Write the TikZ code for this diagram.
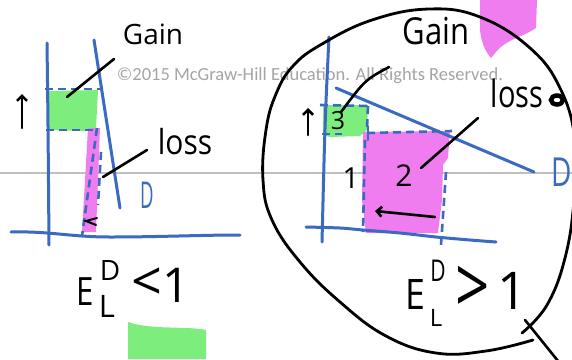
\documentclass[tikz,border=0pt]{standalone}
\usepackage{fontspec}
\setmainfont{Open Sans}
\newfontfamily\wmfont{Carlito}
\usetikzlibrary{arrows.meta}
\definecolor{pblue}{RGB}{58,107,192}
\definecolor{gfill}{RGB}{125,238,125}
\definecolor{pfill}{RGB}{240,125,240}
\definecolor{wmgray}{RGB}{165,165,165}
\definecolor{rulegray}{RGB}{192,192,192}
\newcommand\hw[1]{\fontsize{#1}{#1}\selectfont}
\begin{document}
\begin{tikzpicture}[x=1pt,y=-1pt,
  ax/.style={pblue, line width=3pt, line cap=round},
  dsh/.style={pblue, line width=2.6pt, dash pattern=on 8pt off 5pt},
  ink/.style={black, line width=2.6pt, line cap=round},
  lbl/.style={inner sep=0pt, black},
  barb/.style={-{Straight Barb[length=5pt,width=10pt]}}]
\fill[white] (0,0) rectangle (572,359);
\useasboundingbox (0,0) rectangle (572,359);
\clip (0,0) rectangle (572,359);
% gray rule
\coordinate (r1) at (0,173); \coordinate (r2) at (572,173);
\draw[rulegray, line width=1.6pt] (r1) -- (r2);
% fills
\fill[gfill] (48,91) -- (98,90) -- (96,128) -- (85,131) -- (48,130) -- cycle;
\fill[pfill] (88,128) -- (100,128) -- (96,232) -- (82,232) -- cycle;
\fill[gfill] (323,105) -- (368,105) -- (367,130) -- (360,136) -- (330,137) -- (323,135) -- cycle;
\fill[pfill] (363,132) -- (450,131) -- (448,158) -- (443,165) -- (442,200) -- (438,233) -- (366,233) -- (362,200) -- cycle;
\fill[pfill] (480,0) -- (537,0) -- (536,28) .. controls (525,36) and (505,40) .. (496,52) -- (491,58) .. controls (484,50) and (481,40) .. (480,30) -- cycle;
\fill[gfill] (128,322) .. controls (150,330) and (190,326) .. (206,330) -- (206,359) -- (128,359) -- cycle;
% watermark
\node[anchor=base, inner sep=0pt, text=wmgray, font=\wmfont\fontsize{18.5}{18.5}\selectfont] (wm) at (310,80) {©2015 McGraw-Hill Education. All Rights Reserved.};
% ---- left graph
\draw[ax] (47,43) .. controls (48,120) .. (49,245);
\draw[ax] (11,232) .. controls (50,231) and (70,237) .. (110,237) .. controls (160,237) and (200,235) .. (240,235);
\draw[ax] (94,40) -- (120,208);
\draw[dsh] (45,89) -- (101,89);
\draw[dsh] (46,130) -- (97,130);
\draw[dsh] (97,128) -- (82,236);
\draw[dsh] (101,152) -- (98,205);
\node[lbl, text=pblue, font=\hw{37}, xscale=0.5] (DL) at (147,195) {D};
\coordinate (la1) at (22,128); \coordinate (la2) at (22,94);
\draw[ink, barb] (la1) -- (la2);
\draw[ink, line width=2pt] (97,218) -- (86,221) -- (96,225);
\node[lbl, font=\hw{28}] (gainL) at (153,34) {Gain};
\node[lbl, font=\hw{30}, yscale=1.15] (lossL) at (185,142) {loss};
\coordinate (gL1) at (114,59); \coordinate (gL2) at (67,97);
\draw[ink] (gL1) -- (gL2);
\coordinate (lL1) at (147,150); \coordinate (lL2) at (103,177);
\draw[ink] (lL1) -- (lL2);
\node[lbl, font=\hw{39}, xscale=0.8] (EL) at (85,292) {E};
\node[lbl, font=\hw{28}] (DsL) at (110,270) {D};
\node[lbl, font=\hw{31}] (LsL) at (107,306) {L};
\node[lbl, font=\hw{54}] (ltL) at (147,284) {<};
\node[lbl, font=\hw{48}] (oneL) at (176,285) {1};
% ---- right graph
\draw[ax] (329,37) .. controls (325,120) .. (322,242);
\draw[ax] plot[smooth] coordinates {(306,227) (340,228) (363,230) (400,233) (436,237) (470,240) (496,242)};
\draw[ax] (336,88) -- (534,172);
\node[lbl, text=pblue, font=\hw{40}, xscale=0.7] (DR) at (562,172) {D};
\draw[dsh] (320,105) -- (370,106);
\draw[dsh] (368,106) -- (367,128);
\draw[dsh] (322,134) -- (342,134);
\draw[dsh] (367,133) -- (452,131);
\draw[ax, line width=2pt] (368,126) -- (368,140);
\draw[dsh] (365,140) -- (363,232);
\draw[dsh] (446,172) -- (441,245);
\node[lbl, font=\hw{29}] (n1) at (351,178) {1};
\node[lbl, font=\hw{30}] (n2) at (404,176) {2};
\node[lbl, font=\hw{25}] (n3) at (338,121) {3};
\coordinate (ra1) at (308,135); \coordinate (ra2) at (308,108);
\draw[ink, barb] (ra1) -- (ra2);
\coordinate (rb1) at (435,217); \coordinate (rb2) at (375,211);
\draw[ink, barb] (rb1) -- (rb2);
\node[lbl, font=\hw{31}, yscale=1.2] (gainR) at (436,31) {Gain};
\node[lbl, font=\hw{29}, yscale=1.3] (lossR) at (517,93) {loss};
\coordinate (gR1) at (389,67); \coordinate (gR2) at (341,112);
\draw[ink] (gR1) .. controls (365,80) .. (gR2);
\coordinate (lR1) at (478,118); \coordinate (lR2) at (421,168);
\draw[ink] (lR1) -- (lR2);
\draw[black, line width=4.5pt] (557,100) ellipse (6 and 4.5);
\node[lbl, font=\hw{42}, xscale=0.85] (ER) at (415,295) {E};
\node[lbl, font=\hw{30}, xscale=0.7] (DsR) at (438,271) {D};
\node[lbl, font=\hw{24}] (LsR) at (436,318) {L};
\node[lbl, font=\hw{60}, yscale=1.3] (gtR) at (473,290) {>};
\node[lbl, font=\hw{52}] (oneR) at (512,291) {1};
% ---- magnifier circle
\draw[ink, line width=2.8pt] plot[smooth, tension=0.7] coordinates {(533,340) (486,351) (436,353) (386,336) (340,302) (300,262) (272,220) (263,180) (266,130) (276,94) (293,66) (322,44) (372,20) (429,9) (480,17) (530,48) (560,88) (575,140) (574,200) (565,258) (547,305) (522,333)};
\coordinate (h1) at (525,320); \coordinate (h2) at (558,361);
\draw[ink] (h1) -- (h2);
\end{tikzpicture}
\end{document}
